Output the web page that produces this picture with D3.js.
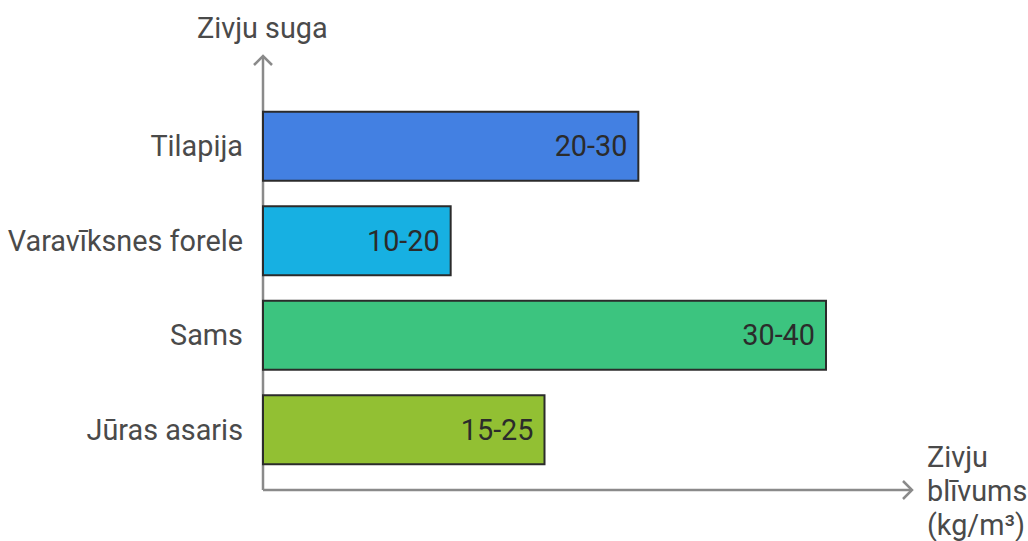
<!DOCTYPE html>
<html><head><meta charset="utf-8">
<script src="https://cdn.jsdelivr.net/npm/d3@7"></script>
<style>body{margin:0;background:#fff}svg{display:block}text{font-family:Roboto,sans-serif}</style>
</head><body>
<svg id="c" width="1028" height="541"></svg>
<script>
const categories = ["Tilapija", "Varavīksnes forele", "Sams", "Jūras asaris"];
const lowValues = [20, 10, 30, 15];
const rangeLabels = ["20-30", "10-20", "30-40", "15-25"];
const colors = ["#4380e2", "#17b0e2", "#3cc47f", "#92c033"];
const yTitle = "Zivju suga";
const xTitleLines = ["Zivju", "blīvums", "(kg/m³)"];

const svg = d3.select("#c");
const x0 = 263, y0 = 490;
const x = d3.scaleLinear().domain([0, 30]).range([x0, 826]);
const y = d3.scaleBand().domain(categories).range([99, 477]).paddingInner(0.27).paddingOuter(0.135);
const fs = 28.8;

// axes
const axisColor = "#8a8a8a";
svg.append("line").attr("x1", x0).attr("y1", y0).attr("x2", x0).attr("y2", 56).attr("stroke", axisColor).attr("stroke-width", 2.5);
svg.append("path").attr("d", `M${x0-9},${65} L${x0},${56} L${x0+9},${65}`).attr("fill","none").attr("stroke", axisColor).attr("stroke-width", 2.5);
svg.append("line").attr("x1", x0).attr("y1", y0).attr("x2", 912).attr("y2", y0).attr("stroke", axisColor).attr("stroke-width", 2.5);
svg.append("path").attr("d", `M${903},${y0-9} L${912},${y0} L${903},${y0+9}`).attr("fill","none").attr("stroke", axisColor).attr("stroke-width", 2.5);

// bars
const g = svg.append("g");
g.selectAll("rect").data(categories).join("rect")
  .attr("x", x(0)).attr("y", d => y(d))
  .attr("width", (d,i) => x(lowValues[i]) - x(0))
  .attr("height", y.bandwidth())
  .attr("fill", (d,i) => colors[i])
  .attr("stroke", "#2b2b2b").attr("stroke-width", 2);

g.selectAll("text.val").data(categories).join("text").attr("class","val")
  .attr("x", (d,i) => x(lowValues[i]) - 11)
  .attr("y", d => y(d) + y.bandwidth()/2)
  .attr("dy", "0.35em").attr("text-anchor", "end")
  .attr("font-size", fs).attr("fill", "#2b2b2b")
  .text((d,i) => rangeLabels[i]);

g.selectAll("text.cat").data(categories).join("text").attr("class","cat")
  .attr("x", 243)
  .attr("y", d => y(d) + y.bandwidth()/2)
  .attr("dy", "0.35em").attr("text-anchor", "end")
  .attr("font-size", fs).attr("fill", "#4a4a4a")
  .text(d => d);

svg.append("text").attr("x", 197).attr("y", 38).attr("font-size", fs).attr("fill", "#4a4a4a").text(yTitle);
svg.append("g").selectAll("text").data(xTitleLines).join("text")
  .attr("x", 927).attr("y", (d,i) => 467 + i*34)
  .attr("font-size", fs).attr("fill", "#4a4a4a").text(d => d);
</script>
</body></html>
